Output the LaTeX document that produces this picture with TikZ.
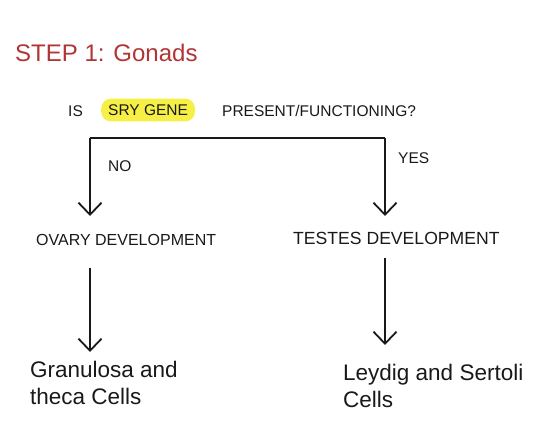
\documentclass[tikz,border=0pt]{standalone}
\usepackage{fontspec}
\setmainfont{Liberation Sans}
\usetikzlibrary{arrows.meta}
\definecolor{titlered}{RGB}{178,52,52}
\definecolor{hl}{RGB}{246,240,70}
\definecolor{ink}{RGB}{25,25,25}
\tikzset{
  lbl/.style={anchor=west, inner sep=0pt, text=ink},
  capsq/.style={lbl, font=\fontsize{15.5}{15.5}\selectfont},
  capsd/.style={lbl, font=\fontsize{16}{16}\selectfont},
  hand/.style={lbl, font=\fontsize{22.5}{27}\selectfont, align=left},
  arr/.style={draw=ink, line width=1.8pt, -{Straight Barb[length=12pt,width=23pt,line width=1.8pt]}},
  bar/.style={draw=ink, line width=1.8pt}
}
\begin{document}
\begin{tikzpicture}[x=1pt,y=-1pt]
\useasboundingbox (0,0) rectangle (556,422);
\node[lbl, text=titlered, font=\fontsize{24}{24}\selectfont] (title) at (15,53) {STEP 1: Gonads};
\node[capsq] (q1) at (68,111) {IS};
\node[capsq, fill=hl, rounded corners=10pt, inner xsep=7pt, inner ysep=6pt] (q2) at (101,110) {SRY GENE};
\node[capsq] (q3) at (222,111) {PRESENT/FUNCTIONING?};
\coordinate (tl) at (90,138);
\coordinate (tr) at (385,138);
\node[capsq] (no) at (108,166) {NO};
\node[capsq] (yes) at (398,158) {YES};
\node[capsd] (ovary) at (36,240) {OVARY DEVELOPMENT};
\node[capsd, font=\fontsize{17.6}{17.6}\selectfont] (testes) at (293,238) {TESTES DEVELOPMENT};
\node[hand] (gran) at (30,383) {Granulosa and\\theca Cells};
\node[hand] (leyd) at (343,386) {Leydig and Sertoli\\Cells};
\draw[bar] (tl) -- (tr);
\draw[arr] (tl) -- (tl |- 0,216);
\draw[arr] (tr) -- (tr |- 0,216);
\draw[arr] (tl |- 0,268) -- (tl |- 0,352);
\draw[arr] (tr |- 0,258) -- (tr |- 0,345);
\end{tikzpicture}
\end{document}
